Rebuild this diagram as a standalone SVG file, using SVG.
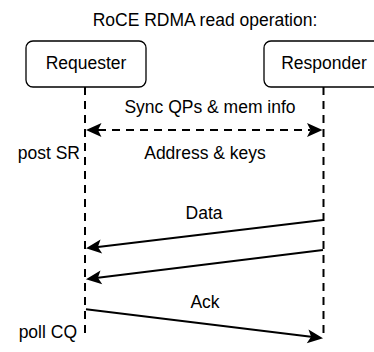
<svg xmlns="http://www.w3.org/2000/svg" width="374" height="352" viewBox="0 0 374 352">
  <style>
    text { font-family: "Liberation Sans", Arial, Helvetica, sans-serif; font-size: 17.5px; fill: #000; }
    .mid { text-anchor: middle; }
    .end { text-anchor: end; }
    .box { fill: #fff; stroke: #000; stroke-width: 1.3; }
    .life { fill: none; stroke: #000; stroke-width: 2; stroke-dasharray: 8 6; }
    .msg { fill: none; stroke: #000; stroke-width: 2; }
    .dash { stroke-dasharray: 8 6; }
  </style>
  <defs>
    <!-- classic notched arrowhead; reference point sits at the notch -->
    <marker id="arrow" markerUnits="userSpaceOnUse" viewBox="-4 -8 17 16" refX="0" refY="0" markerWidth="17" markerHeight="16" orient="auto-start-reverse">
      <path d="M12,0 L-3.5,-7 L0,0 L-3.5,7 Z" fill="#000"/>
    </marker>
  </defs>

  <text class="mid" x="205" y="26">RoCE RDMA read operation:</text>

  <!-- lifelines -->
  <g id="lifelines">
    <line class="life" x1="85" y1="87" x2="85" y2="339"/>
    <line class="life" x1="323.5" y1="87" x2="323.5" y2="339"/>
  </g>

  <g id="requester">
    <rect class="box" x="26" y="41" width="120" height="46" rx="7"/>
    <text class="mid" x="86" y="69">Requester</text>
  </g>

  <g id="responder">
    <rect class="box" x="264" y="41" width="120" height="46" rx="7"/>
    <text class="mid" x="324" y="69">Responder</text>
  </g>

  <!-- messages -->
  <g id="connectors">
    <line class="msg dash" x1="98" y1="130" x2="310.5" y2="130" marker-start="url(#arrow)" marker-end="url(#arrow)"/>
    <line class="msg" x1="323" y1="220" x2="97.9" y2="246.9" marker-end="url(#arrow)"/>
    <line class="msg" x1="323" y1="250" x2="97.9" y2="277.8" marker-end="url(#arrow)"/>
    <line class="msg" x1="86" y1="309.3" x2="311.1" y2="336.8" marker-end="url(#arrow)"/>
  </g>

  <g id="labels">
    <text class="mid" x="210" y="113">Sync QPs &amp; mem info</text>
    <text class="mid" x="205" y="159">Address &amp; keys</text>
    <text class="end" x="80" y="159">post SR</text>
    <text class="mid" x="204" y="219">Data</text>
    <text class="mid" x="205" y="308">Ack</text>
    <text class="end" x="77" y="338">poll CQ</text>
  </g>
</svg>
